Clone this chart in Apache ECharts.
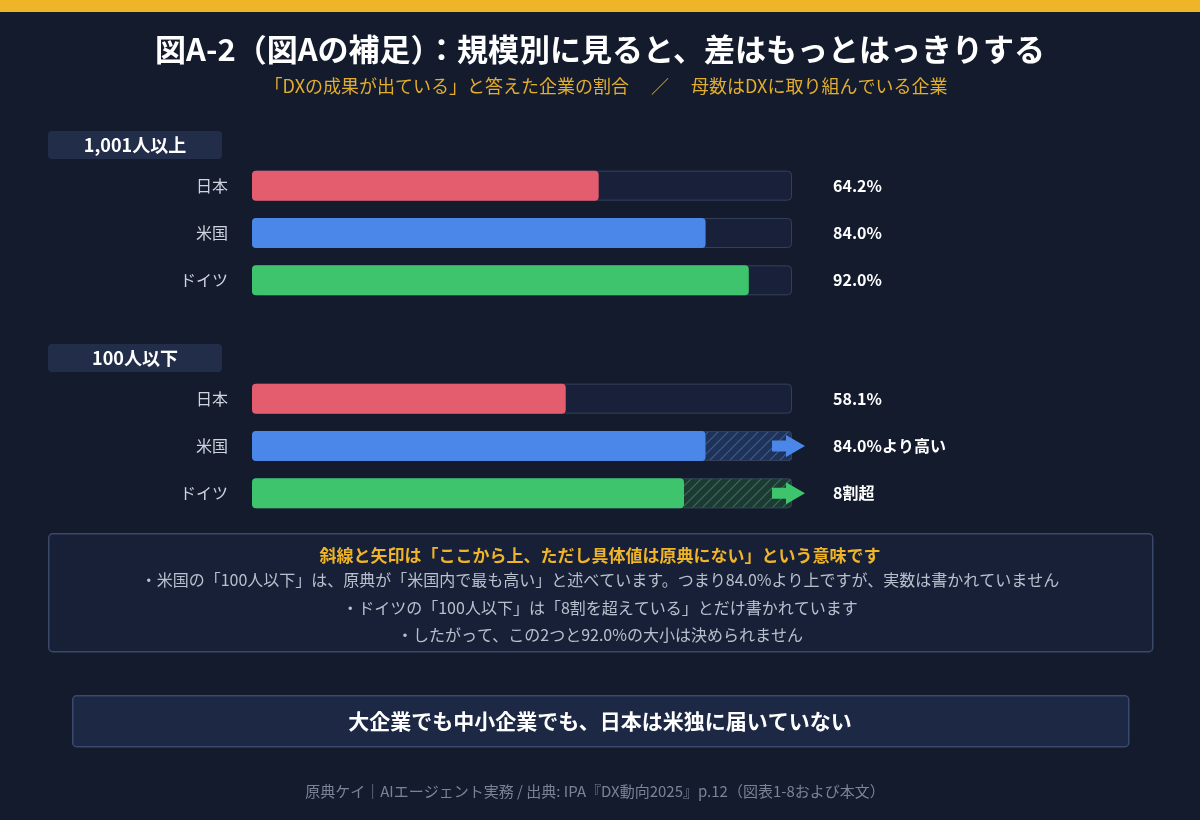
<!DOCTYPE html>
<html>
<head>
<meta charset="utf-8">
<script src="https://cdn.jsdelivr.net/npm/echarts@6/dist/echarts.min.js"></script>
<style>
  html, body { margin: 0; padding: 0; background: #131b2d; }
  #chart { width: 1200px; height: 820px; }
</style>
</head>
<body>
<div id="chart"></div>
<script>
// データ
var categories = ['日本', '米国', 'ドイツ'];
var groupNames = ['1,001人以上', '100人以下'];
var largeValues = [64.2, 84.0, 92.0];
var largeLabels = ['64.2%', '84.0%', '92.0%'];
var smallValues = [58.1, 84.0, 80.0];
var smallLabels = ['58.1%', '84.0%より高い', '8割超'];
var smallOpenEnded = [false, true, true];   // 斜線+矢印（下限のみ判明）

var titleText = '図A-2（図Aの補足）：規模別に見ると、差はもっとはっきりする';
var subText = '「DXの成果が出ている」と答えた企業の割合　 ／ 　母数はDXに取り組んでいる企業';
var noteHead = '斜線と矢印は「ここから上、ただし具体値は原典にない」という意味です';
var noteLines = [
  '・米国の「100人以下」は、原典が「米国内で最も高い」と述べています。つまり84.0%より上ですが、実数は書かれていません',
  '・ドイツの「100人以下」は「8割を超えている」とだけ書かれています',
  '・したがって、この2つと92.0%の大小は決められません'
];
var conclusion = '大企業でも中小企業でも、日本は米独に届いていない';
var footer = '原典ケイ｜AIエージェント実務 / 出典: IPA『DX動向2025』p.12（図表1-8および本文）';

// スタイル
var FONT = '"Noto Sans CJK JP", "Noto Sans", sans-serif';
var colors = ['#e35d6f', '#4a87e8', '#3dc46d'];
var hatchBase = ['#1a2238', '#1f3358', '#1c3a33'];
var hatchLine = ['#1a2238', '#3a5c96', '#327252'];

function hatch(base, line) {
  var c = document.createElement('canvas');
  c.width = 10; c.height = 10;
  var g = c.getContext('2d');
  g.fillStyle = base;
  g.fillRect(0, 0, 10, 10);
  g.strokeStyle = line;
  g.lineWidth = 1.2;
  g.beginPath();
  g.moveTo(0, 10); g.lineTo(10, 0);
  g.moveTo(-1, 1); g.lineTo(1, -1);
  g.moveTo(9, 11); g.lineTo(11, 9);
  g.stroke();
  return c;
}

function groupSeries(gi, values, labels, openEnded) {
  var common = { type: 'bar', xAxisIndex: gi, yAxisIndex: gi, barWidth: 30, barGap: '-100%', animation: false };
  var list = [];
  // トラック
  list.push(Object.assign({}, common, {
    silent: true,
    data: values.map(function () { return 100; }),
    itemStyle: { color: '#182139', borderRadius: 4 },
    label: {
      show: true, position: 'right', distance: 41,
      formatter: function (p) { return labels[p.dataIndex]; },
      color: '#ffffff', fontSize: 16, fontWeight: 'bold', fontFamily: FONT
    }
  }));
  if (openEnded) {
    list.push(Object.assign({}, common, {
      stack: 'open' + gi, silent: true,
      data: values.map(function (v, i) { return openEnded[i] ? v : '-'; }),
      itemStyle: { color: 'rgba(0,0,0,0)' }
    }));
    list.push(Object.assign({}, common, {
      stack: 'open' + gi, silent: true,
      data: values.map(function (v, i) {
        return openEnded[i] ? {
          value: 100 - v,
          itemStyle: { color: { image: hatch(hatchBase[i], hatchLine[i]), repeat: 'repeat' }, borderRadius: [0, 4, 4, 0] }
        } : '-';
      })
    }));
  }
  // 枠線
  list.push(Object.assign({}, common, {
    silent: true,
    data: values.map(function () { return 100; }),
    itemStyle: { color: 'rgba(0,0,0,0)', borderColor: '#33405c', borderWidth: 1, borderRadius: 4 }
  }));
  // 実数バー
  list.push(Object.assign({}, common, {
    data: values.map(function (v, i) { return { value: v, itemStyle: { color: colors[i] } }; }),
    itemStyle: { borderRadius: 4 }
  }));
  if (openEnded) {
    list.push({
      type: 'custom', xAxisIndex: gi, yAxisIndex: gi, clip: false, z: 10, animation: false,
      data: openEnded.map(function (o, i) { return o ? [100, i] : null; }).filter(Boolean),
      renderItem: function (params, api) {
        var idx = api.value(1);
        var p = api.coord([100, idx]);
        var x = p[0], y = p[1];
        return {
          type: 'polygon',
          shape: { points: [[x - 20, y - 5.5], [x - 6, y - 5.5], [x - 6, y - 11], [x + 13, y], [x - 6, y + 11], [x - 6, y + 5.5], [x - 20, y + 5.5]] },
          style: { fill: colors[idx] }
        };
      }
    });
  }
  return list;
}

function pill(top, text) {
  return [
    { type: 'rect', left: 48, top: top, shape: { width: 174, height: 28, r: 4 }, style: { fill: '#222d4a' } },
    { type: 'text', x: 135, y: top + 14, style: { text: text, fill: '#ffffff', font: 'bold 18px ' + FONT, textAlign: 'center', textVerticalAlign: 'middle' } }
  ];
}

function centerText(y, text, fill, font) {
  return { type: 'text', x: 600, y: y, style: { text: text, fill: fill, font: font, textAlign: 'center', textVerticalAlign: 'middle' } };
}

var graphics = [
  { type: 'rect', left: 0, top: 0, shape: { width: 1200, height: 12 }, style: { fill: '#f0b429' } },
  centerText(49, titleText, '#ffffff', 'bold 31px ' + FONT),
  { type: 'text', x: 606, y: 86, style: { text: subText, fill: '#e3ad2e', font: '18px ' + FONT, textAlign: 'center', textVerticalAlign: 'middle' } }
].concat(pill(131, groupNames[0]), pill(344, groupNames[1]), [
  { type: 'rect', left: 48, top: 533, shape: { width: 1104, height: 118, r: 4 }, style: { fill: '#172037', stroke: '#3a4869', lineWidth: 1.5 } },
  centerText(556, noteHead, '#f0b429', 'bold 17px ' + FONT),
  centerText(580, noteLines[0], '#b9c0cd', '16px ' + FONT),
  centerText(608, noteLines[1], '#b9c0cd', '16px ' + FONT),
  centerText(635, noteLines[2], '#b9c0cd', '16px ' + FONT),
  { type: 'rect', left: 72, top: 695, shape: { width: 1056, height: 51, r: 4 }, style: { fill: '#1c2844', stroke: '#3a4a6e', lineWidth: 1.5 } },
  centerText(721, conclusion, '#ffffff', 'bold 21px ' + FONT),
  { type: 'text', x: 595, y: 791, style: { text: footer, fill: '#7b8396', font: '15px ' + FONT, textAlign: 'center', textVerticalAlign: 'middle' } }
]);

function yAxisFor(gi) {
  return {
    gridIndex: gi, type: 'category', data: categories, inverse: true,
    axisLine: { show: false }, axisTick: { show: false }, splitLine: { show: false },
    axisLabel: { color: '#cfd4de', fontSize: 16, margin: 24, fontFamily: FONT }
  };
}

var chart = echarts.init(document.getElementById('chart'));
chart.setOption({
  backgroundColor: '#131b2d',
  textStyle: { fontFamily: FONT },
  grid: [
    { left: 252, width: 540, top: 162, height: 142 },
    { left: 252, width: 540, top: 375, height: 142 }
  ],
  xAxis: [
    { gridIndex: 0, type: 'value', min: 0, max: 100, show: false },
    { gridIndex: 1, type: 'value', min: 0, max: 100, show: false }
  ],
  yAxis: [yAxisFor(0), yAxisFor(1)],
  series: groupSeries(0, largeValues, largeLabels, null)
    .concat(groupSeries(1, smallValues, smallLabels, smallOpenEnded)),
  graphic: graphics
});
</script>
</body>
</html>
